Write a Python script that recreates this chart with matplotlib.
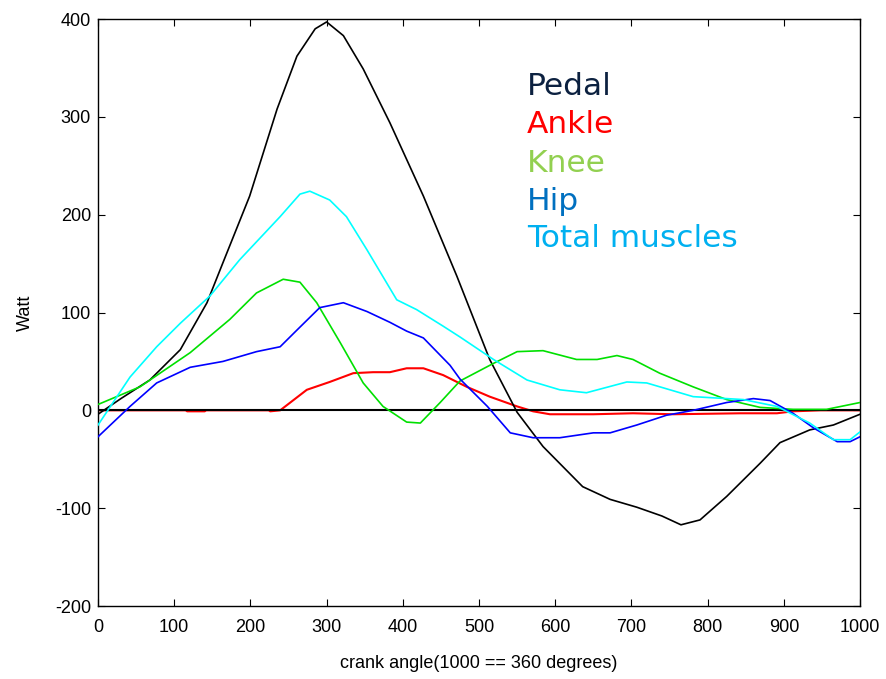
import numpy as np
import matplotlib
matplotlib.use('Agg')
import matplotlib.pyplot as plt

plt.rcParams['axes.unicode_minus'] = False

# ── Data ─────────────────────────────────────────────────────────────────
pedal_x = [0, 30, 68, 108, 143, 164, 199, 235, 261, 285, 300, 322, 348, 383,
           427, 471, 514, 550, 584, 636, 672, 707, 740, 765, 790, 825, 869,
           895, 934, 965, 1000]
pedal_y = [-4, 12, 31, 62, 110, 151, 219, 308, 362, 390, 397, 383, 349, 294,
           219, 137, 52, -2, -37, -78, -91, -99, -108, -117, -112, -88, -54,
           -33, -20, -15, -4]

total_x = [0, 42, 77, 108, 147, 186, 239, 265, 278, 304, 326, 353, 392, 418,
           453, 475, 519, 563, 606, 641, 694, 720, 781, 847, 891, 934, 965,
           987, 1000]
total_y = [-15, 34, 65, 89, 117, 154, 198, 221, 224, 215, 198, 164, 113, 103,
           86, 75, 52, 31, 21, 18, 29, 28, 14, 11, 4, -13, -30, -30, -22]

knee_x = [0, 55, 121, 173, 208, 243, 265, 287, 318, 348, 374, 405, 423, 449,
          475, 519, 550, 584, 628, 655, 681, 702, 737, 781, 825, 869, 912,
          956, 1000]
knee_y = [6, 24, 59, 93, 120, 134, 131, 110, 69, 28, 4, -12, -13, 8,
          30, 48, 60, 61, 52, 52, 56, 52, 38, 24, 11, 3, 1, 1, 8]

hip_x = [0, 42, 77, 121, 164, 208, 239, 261, 291, 322, 353, 383, 405, 427,
         462, 475, 511, 541, 571, 606, 650, 672, 707, 746, 781, 825, 860,
         882, 912, 939, 970, 987, 1000]
hip_y = [-27, 4, 28, 44, 50, 60, 65, 82, 105, 110, 101, 90, 81, 74,
         46, 32, 4, -23, -28, -28, -23, -23, -15, -5, 0, 8, 12,
         10, -3, -18, -32, -32, -27]

ankle_x = [0, 115, 117, 140, 142, 224, 226, 239, 274, 304, 335, 361, 383, 405,
           427, 453, 484, 514, 550, 571, 593, 650, 702, 755, 843, 891, 912,
           948, 1000]
ankle_y = [0, 0, -1, -1, 0, 0, -1, 0, 21, 29, 38, 39, 39, 43,
           43, 36, 24, 14, 4, -1, -4, -4, -3, -4, -3, -3, -1, 0, 0]

x_ticks = list(range(0, 1001, 100))
y_ticks = list(range(-200, 401, 100))

legend_labels = ['Pedal', 'Ankle', 'Knee', 'Hip', 'Total muscles']
legend_colors = ['#0c2140', '#ff0000', '#92d050', '#0070c0', '#00b0f0']

# ── Figure ───────────────────────────────────────────────────────────────
fig = plt.figure(figsize=(8.87, 6.79), dpi=100)
ax = fig.add_axes([0.1105, 0.1075, 0.8591, 0.8645])

tick_font = ['Liberation Sans Narrow', 'Liberation Sans', 'DejaVu Sans']

ax.plot(pedal_x, pedal_y, color='black', lw=1.2, zorder=3)
ax.plot(ankle_x, ankle_y, color='#ff0000', lw=1.5, zorder=2)
ax.plot(knee_x, knee_y, color='#00e000', lw=1.2, zorder=3)
ax.plot(hip_x, hip_y, color='#0000ff', lw=1.2, zorder=3)
ax.plot(total_x, total_y, color='#00ffff', lw=1.2, zorder=3)
ax.axhline(0, color='black', lw=1.5, zorder=2.5)

ax.set_xlim(0, 1000)
ax.set_ylim(-200, 400)
ax.set_xticks(x_ticks)
ax.set_yticks(y_ticks)
ax.tick_params(direction='in', top=True, right=True, length=5, width=0.8,
               labelsize=13)
ax.tick_params(axis='x', pad=9)
ax.tick_params(axis='y', pad=5)
for lab in ax.get_xticklabels() + ax.get_yticklabels():
    lab.set_family(tick_font)
for sp in ax.spines.values():
    sp.set_linewidth(1.0)

ax.set_xlabel('crank angle(1000 == 360 degrees)', fontsize=13,
              family=tick_font, labelpad=14)
ax.set_ylabel('Watt', fontsize=13, family=tick_font, labelpad=15)

# coloured text legend
baselines = [95, 133, 172, 210, 247]
for lab, col, yb in zip(legend_labels, legend_colors, baselines):
    fig.text(527 / 887, 1 - yb / 679, lab, color=col, fontsize=22.5,
             family='DejaVu Sans', va='baseline', ha='left')

fig.savefig('out.png', dpi=100)
